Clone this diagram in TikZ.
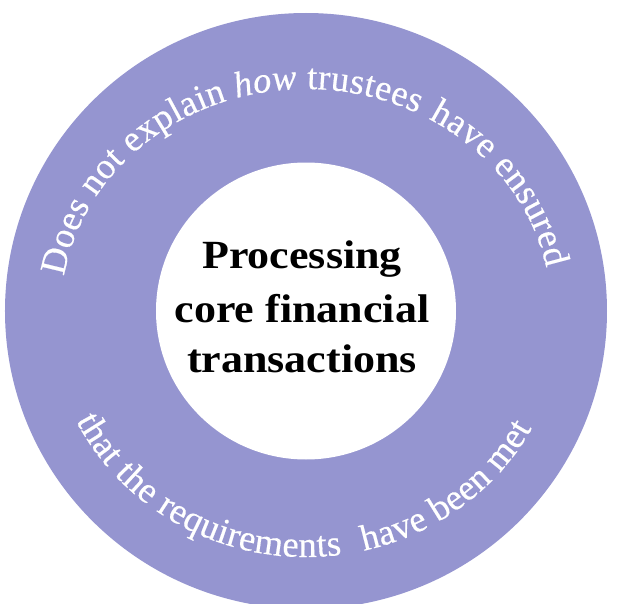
\documentclass[tikz,border=0pt]{standalone}
\usepackage{fontspec}
\setmainfont{Liberation Serif}
\newfontface\ringup[FakeBold=0.4]{Liberation Serif}
\newfontface\ringit[FakeBold=0.4]{Liberation Serif Italic}
\usetikzlibrary{decorations.text}
\definecolor{ringpurple}{RGB}{149,149,208}
\newcommand\ringtext{\fontsize{36.5}{36.5}\ringup\color{white}}
\newcommand\ringitalic{\fontsize{36.5}{36.5}\ringit\color{white}}
\begin{document}
\begin{tikzpicture}[x=1pt,y=1pt,
  centrelabel/.style={anchor=base, inner sep=0pt, text=black,
    font=\fontsize{40}{46}\selectfont\bfseries, xscale=1.1},
  ringlabel/.style={decorate, decoration={text along path,
    text={#1}, text align={fit to path}}}]
\useasboundingbox (-306,-292) rectangle (313,311);
\fill[white] (-306,-292) rectangle (313,311);

% ring and its white centre
\fill[ringpurple] (0,0) ellipse[x radius=301pt, y radius=298pt];
\fill[white] (0,0) ellipse[x radius=150pt, y radius=148.5pt];

% upper arc, read clockwise
\path[ringlabel={|\ringtext|Does not explain |\ringitalic|how|\ringtext| trustees}]
  (171:245pt and 222pt) arc[start angle=171, end angle=63, x radius=245pt, y radius=222pt];
\path[ringlabel={|\ringtext|have ensured}]
  (60:245pt and 222pt) arc[start angle=60, end angle=11.2, x radius=245pt, y radius=222pt];

% lower arc, read counter-clockwise
\path[ringlabel={|\ringtext|that the requirements}]
  (206.5:257pt and 246pt) arc[start angle=206.5, end angle=278, x radius=257pt, y radius=246pt];
\path[ringlabel={|\ringtext|have been met}]
  (283:257pt and 246pt) arc[start angle=283, end angle=331.5, x radius=257pt, y radius=246pt];

% centre title
\node[centrelabel] (l1) at (-4,43) {Processing};
\node[centrelabel] (l2) at (-4,-11) {core financial};
\node[centrelabel] (l3) at (-4,-61) {transactions};
\end{tikzpicture}
\end{document}
